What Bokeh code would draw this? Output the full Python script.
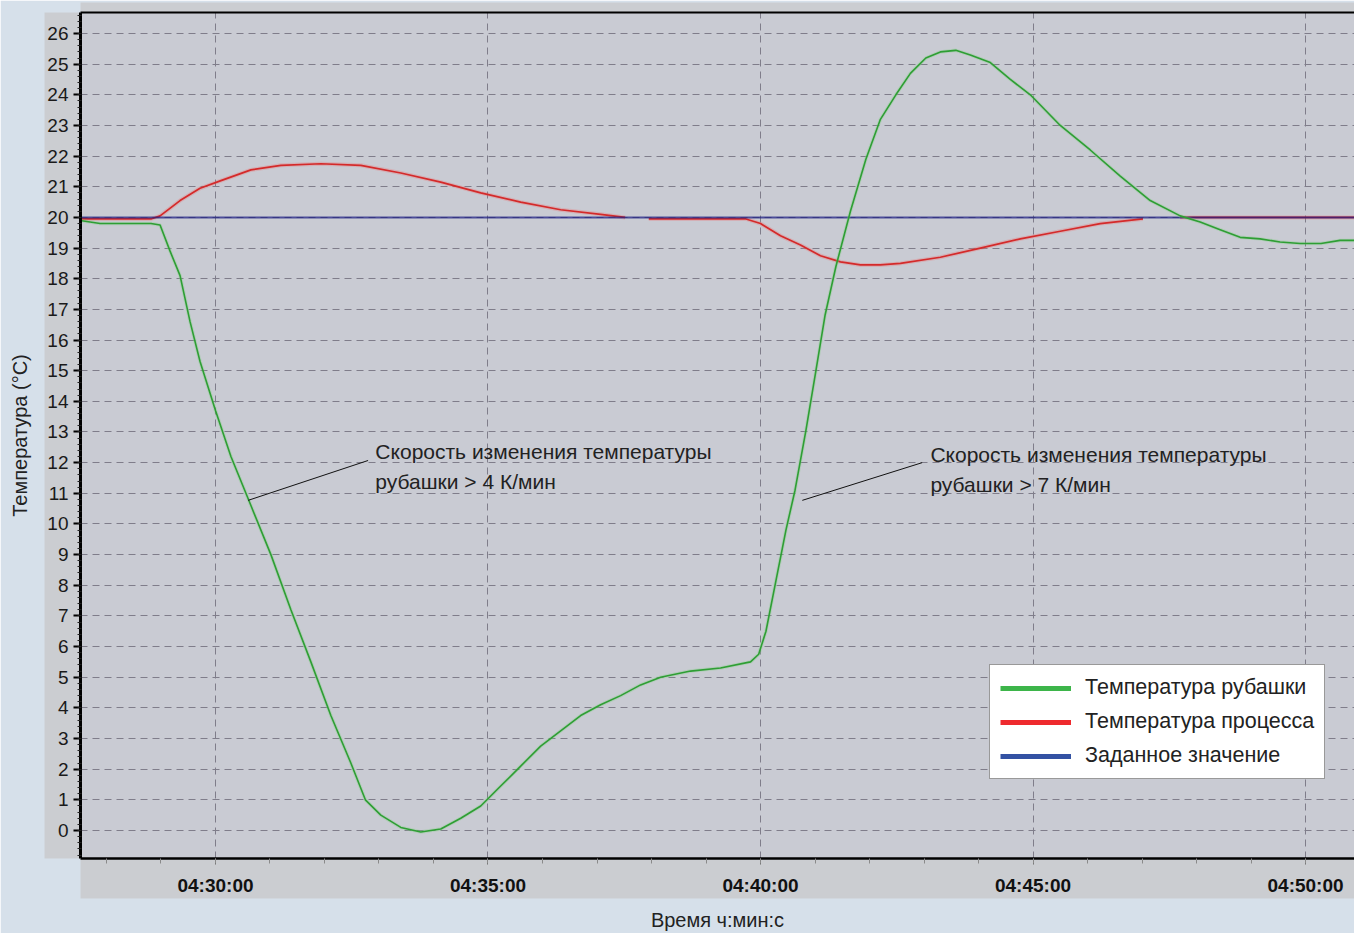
import math
import pandas as pd
from bokeh.plotting import figure
from bokeh.models import (Range1d, DatetimeAxis, LinearAxis, FixedTicker, DatetimeTickFormatter,
                          Grid, Legend, LegendItem)
from bokeh.core.properties import value
from bokeh.embed import file_html
from bokeh.resources import INLINE

# ---------------- data ----------------
DAY = "2000-01-01 "

jacket_times = ["04:27:31", "04:27:53", "04:28:49", "04:28:59", "04:29:10", "04:29:21", "04:29:32",
                "04:29:43", "04:30:00", "04:30:17", "04:30:39", "04:31:01", "04:31:23", "04:31:45",
                "04:32:07", "04:32:29", "04:32:45", "04:33:02", "04:33:24", "04:33:46", "04:34:08",
                "04:34:30", "04:34:52", "04:35:14", "04:35:36", "04:35:58", "04:36:20", "04:36:42",
                "04:37:04", "04:37:26", "04:37:48", "04:38:10", "04:38:43", "04:39:16", "04:39:49",
                "04:39:58", "04:40:06", "04:40:17", "04:40:28", "04:40:38", "04:40:50", "04:41:01",
                "04:41:11", "04:41:23", "04:41:39", "04:41:56", "04:42:12", "04:42:29", "04:42:45",
                "04:43:02", "04:43:18", "04:43:35", "04:43:51", "04:44:13", "04:44:35", "04:44:57",
                "04:45:30", "04:46:03", "04:46:36", "04:47:09", "04:47:42", "04:48:04", "04:48:26",
                "04:48:48", "04:49:10", "04:49:32", "04:49:54", "04:50:17", "04:50:38", "04:50:54"]
jacket_temp = [19.9, 19.8, 19.8, 19.75, 18.9, 18.1, 16.6,
               15.3, 13.7, 12.2, 10.6, 9.0, 7.2, 5.5,
               3.75, 2.2, 1.0, 0.5, 0.1, -0.05, 0.05,
               0.4, 0.8, 1.45, 2.1, 2.75, 3.25, 3.75,
               4.1, 4.4, 4.75, 5.0, 5.2, 5.3, 5.5,
               5.75, 6.5, 8.15, 9.8, 11.1, 13.05, 15.0,
               16.8, 18.4, 20.2, 21.9, 23.2, 24.0, 24.7,
               25.2, 25.4, 25.45, 25.3, 25.05, 24.5, 24.0,
               23.0, 22.2, 21.35, 20.55, 20.05, 19.85, 19.6,
               19.35, 19.3, 19.2, 19.15, 19.15, 19.25, 19.25]

process_times = ["04:27:31", "04:28:49", "04:28:59", "04:29:21", "04:29:43", "04:30:06", "04:30:39",
                 "04:31:12", "04:31:56", "04:32:40", "04:33:24", "04:34:08", "04:34:52", "04:35:36",
                 "04:36:20", "04:37:04", "04:37:31", "04:37:44", "04:37:57", "04:39:44", "04:40:00",
                 "04:40:22", "04:40:44", "04:41:06", "04:41:28", "04:41:50", "04:42:12", "04:42:34",
                 "04:43:18", "04:44:02", "04:44:46", "04:45:30", "04:46:14", "04:47:01", "04:47:20",
                 "04:47:42", "04:50:54"]
process_temp = [19.95, 19.95, 20.05, 20.55, 20.95, 21.2, 21.55,
                21.7, 21.75, 21.7, 21.45, 21.15, 20.8, 20.5,
                20.25, 20.1, 20.0, math.nan, 19.95, 19.95, 19.8,
                19.4, 19.1, 18.75, 18.55, 18.45, 18.45, 18.5,
                18.7, 19.0, 19.3, 19.55, 19.8, 19.95, math.nan,
                20.0, 20.0]

setpoint_times = ["04:27:31", "04:50:54"]
setpoint_temp = [20.0, 20.0]

x_major_ticks = ["04:30:00", "04:35:00", "04:40:00", "04:45:00", "04:50:00"]
x_minor_ticks = ["04:%02d:00" % m for m in range(28, 51)]
y_major_ticks = list(range(0, 27))
y_minor_ticks = [i / 5 for i in range(-4, 134)]

series_labels = ["Температура рубашки", "Температура процесса", "Заданное значение"]
annotation_1 = ["Скорость изменения температуры", "рубашки > 4 К/мин"]
annotation_2 = ["Скорость изменения температуры", "рубашки > 7 К/мин"]


def ts(s):
    return pd.Timestamp(DAY + s)


def ms(s):
    return ts(s).value / 1e6


# ---------------- styling ----------------
OUTER_BG = "#d6e0ea"
PANEL_BG = "#cbcdd1"
PLOT_BG = "#c9cbd3"
GRID_COLOR = "#7f7d8a"
FONT = "Liberation Sans"

p = figure(width=1354, height=933, output_backend="svg", toolbar_location=None,
           x_axis_type=None, y_axis_type=None,
           x_range=Range1d(ts("04:27:31.4"), ts("04:50:53.9")),
           y_range=Range1d(-0.914, 26.685),
           min_border_left=80, min_border_right=0, min_border_top=12, min_border_bottom=75)
p.background_fill_color = PLOT_BG
p.border_fill_color = OUTER_BG
p.outline_line_color = None
p.grid.visible = False

# axes
xticker = FixedTicker(ticks=[ms(t) for t in x_major_ticks], minor_ticks=[ms(t) for t in x_minor_ticks])
fmt = "%H:%M:%S"
xaxis = DatetimeAxis(ticker=xticker,
                     formatter=DatetimeTickFormatter(milliseconds=fmt, seconds=fmt, minsec=fmt,
                                                     minutes=fmt, hourmin=fmt, hours=fmt, days=fmt))
xaxis.axis_line_color = "black"
xaxis.axis_line_width = 2.5
xaxis.major_tick_line_color = "#6a6a6a"
xaxis.major_tick_out = 6
xaxis.major_tick_in = 0
xaxis.minor_tick_line_color = "#8a8a8a"
xaxis.minor_tick_out = 5
xaxis.minor_tick_in = 0
xaxis.major_label_standoff = 10
xaxis.major_label_text_font = FONT
xaxis.major_label_text_font_style = "bold"
xaxis.major_label_text_font_size = "19px"
xaxis.major_label_text_color = "#111111"
xaxis.background_fill_color = PANEL_BG
p.add_layout(xaxis, "below")

xlabel_axis = LinearAxis(ticker=FixedTicker(ticks=[]), axis_label="Время ч:мин:с")
xlabel_axis.axis_line_color = None
xlabel_axis.major_tick_line_color = None
xlabel_axis.minor_tick_line_color = None
xlabel_axis.major_tick_out = 0
xlabel_axis.minor_tick_out = 0
xlabel_axis.major_label_standoff = 0
xlabel_axis.axis_label_standoff = 10
xlabel_axis.axis_label_text_font = FONT
xlabel_axis.axis_label_text_font_style = "normal"
xlabel_axis.axis_label_text_font_size = "20px"
xlabel_axis.axis_label_text_color = "#222222"
p.add_layout(xlabel_axis, "below")

yticker = FixedTicker(ticks=y_major_ticks, minor_ticks=y_minor_ticks)
yaxis = LinearAxis(ticker=yticker)
yaxis.axis_line_color = "black"
yaxis.axis_line_width = 3
yaxis.major_tick_line_color = "black"
yaxis.major_tick_line_width = 2
yaxis.major_tick_out = 7
yaxis.major_tick_in = 0
yaxis.minor_tick_line_color = "#222222"
yaxis.minor_tick_out = 3
yaxis.minor_tick_in = 1
yaxis.major_label_standoff = 5
yaxis.major_label_text_font = FONT
yaxis.major_label_text_font_size = "19px"
yaxis.major_label_text_color = "#1a1a1a"
yaxis.background_fill_color = PANEL_BG
p.add_layout(yaxis, "left")

ylabel_axis = LinearAxis(ticker=FixedTicker(ticks=[]), axis_label="Температура (°C)")
ylabel_axis.axis_line_color = None
ylabel_axis.major_tick_line_color = None
ylabel_axis.minor_tick_line_color = None
ylabel_axis.major_tick_out = 0
ylabel_axis.minor_tick_out = 0
ylabel_axis.major_label_standoff = 0
ylabel_axis.axis_label_standoff = 14
ylabel_axis.axis_label_text_font = FONT
ylabel_axis.axis_label_text_font_style = "normal"
ylabel_axis.axis_label_text_font_size = "20px"
ylabel_axis.axis_label_text_color = "#222222"
p.add_layout(ylabel_axis, "left")

top_axis = LinearAxis(ticker=FixedTicker(ticks=[]), axis_label="\u00a0")
top_axis.axis_line_color = "black"
top_axis.axis_line_width = 2
top_axis.major_tick_line_color = None
top_axis.minor_tick_line_color = None
top_axis.major_tick_out = 0
top_axis.minor_tick_out = 0
top_axis.major_label_standoff = 0
top_axis.axis_label_standoff = 0
top_axis.axis_label_text_font_size = "7px"
top_axis.background_fill_color = PANEL_BG
p.add_layout(top_axis, "above")

# grids
p.add_layout(Grid(dimension=0, ticker=xticker, grid_line_color=GRID_COLOR, grid_line_width=1,
                  grid_line_dash="7 5"))
p.add_layout(Grid(dimension=1, ticker=yticker, grid_line_color=GRID_COLOR, grid_line_width=1,
                  grid_line_dash="7 5"))

# series (soft halo under each trace, as in the screenshot)
px = [ts(t) for t in process_times]
jx = [ts(t) for t in jacket_times]
p.line(px, process_temp, line_color="#f07070", line_width=4, line_alpha=0.3)
p.line(px, process_temp, line_color="#d42a2a", line_width=1.7)
p.line([ts(t) for t in setpoint_times], setpoint_temp, line_color="#1c1c82", line_width=2, line_alpha=0.72)
p.line(jx, jacket_temp, line_color="#7ad07a", line_width=3.5, line_alpha=0.3)
p.line(jx, jacket_temp, line_color="#2e9e34", line_width=1.6)

# annotations
ann_font = value(FONT)
p.text(x=[ts("04:32:56"), ts("04:32:56")], y=[12.37, 11.39], text=annotation_1,
       text_font=ann_font, text_font_size="21px", text_color="#222222",
       text_baseline="middle", text_align="left")
p.segment(x0=[ts("04:32:48")], y0=[12.07], x1=[ts("04:30:36")], y1=[10.77],
          line_color="#111111", line_width=1)
p.text(x=[ts("04:43:07"), ts("04:43:07")], y=[12.27, 11.29], text=annotation_2,
       text_font=ann_font, text_font_size="21px", text_color="#222222",
       text_baseline="middle", text_align="left")
p.segment(x0=[ts("04:42:58")], y0=[12.0], x1=[ts("04:40:46")], y1=[10.77],
          line_color="#111111", line_width=1)

# legend (swatches use the brighter legend colours)
sw_colors = ["#3db54a", "#ee2a2e", "#3352a3"]
items = []
for lab, col in zip(series_labels, sw_colors):
    r = p.line(x=[jx[0]], y=[math.nan], line_color=col, line_width=5)
    items.append(LegendItem(label=lab, renderers=[r]))
legend = Legend(items=items, location=(909, 79), glyph_width=71, glyph_height=24, label_height=24,
                label_standoff=14, spacing=9, padding=10, margin=0,
                border_line_color="#333333", border_line_width=1,
                background_fill_color="white", background_fill_alpha=1,
                label_text_font=FONT, label_text_font_size="21.5px", label_text_color="#222222")
p.add_layout(legend)

open("out.html", "w").write(file_html(p, INLINE))
